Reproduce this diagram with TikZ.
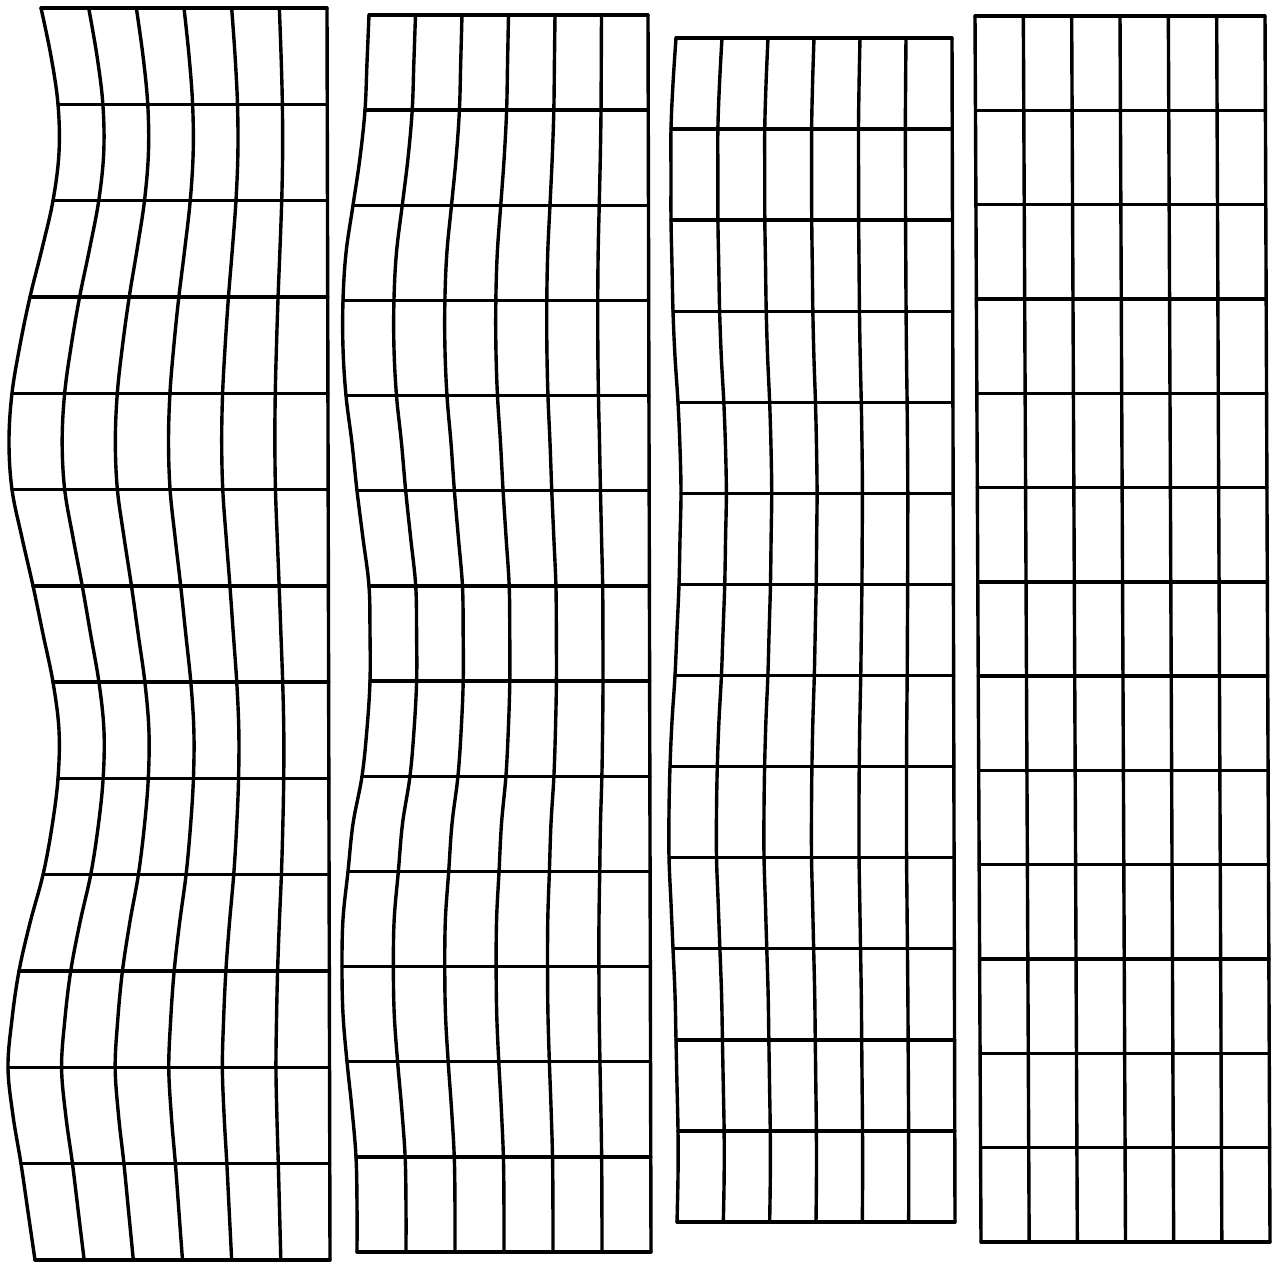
\documentclass[tikz,border=0pt]{standalone}
\tikzset{gridline/.style={line width=3.4pt, line cap=round, line join=round}}
\newcommand\wavegrid[7]{%
  \foreach \i in {0,...,6}{%
    \gdef\wgpts{}%
    \foreach \k in {0,...,26}{%
      \pgfmathsetmacro\wgy{#1+(#2-#1)/26*\k}%
      \pgfmathsetmacro\wgL{#3+(#4-#3)/26*\k}%
      \pgfmathsetmacro\wgR{#5+(#6-#5)/26*\k}%
      \pgfmathsetmacro\wgd{{#7}[\k]}%
      \pgfmathsetmacro\wgx{\wgL+(\wgR-\wgL)/6*\i+\wgd*(1-\i/6)}%
      \xdef\wgpts{\wgpts(\wgx,\wgy)}%
    }%
    \edef\wgdo{\noexpand\draw[gridline] plot[smooth,tension=0.6] coordinates {\wgpts};}\wgdo
  }%
  \foreach \k in {0,2,...,26}{%
    \pgfmathsetmacro\wgy{#1+(#2-#1)/26*\k}%
    \pgfmathsetmacro\wgL{#3+(#4-#3)/26*\k}%
    \pgfmathsetmacro\wgR{#5+(#6-#5)/26*\k}%
    \pgfmathsetmacro\wgd{{#7}[\k]}%
    \pgfmathsetmacro\wgx{\wgL+\wgd}%
    \draw[gridline] (\wgx,\wgy) -- (\wgR,\wgy);
  }%
}
\begin{document}
\begin{tikzpicture}[x=1pt,y=-1pt]
\fill[white] (0,0) rectangle (1279,1263);
\useasboundingbox (0,0) rectangle (1279,1263);
% grid 1
\wavegrid{8}{1260}{34}{34}{327}{330}{7,17,24,25,19,8,-4,-14,-22,-25,-22,-12,-1,9,19,25,24,18,9,-4,-15,-22,-26,-21,-13,-6,1}
% grid 2
\wavegrid{15}{1252}{356}{356}{648}{651}{13,11,9,4,-3,-10,-13,-13,-10,-4,1,7,13,14,14,11,6,-3,-8,-13,-14,-13,-9,-4,0,1,1}
% grid 3
\wavegrid{38}{1222}{675}{675}{952}{955}{1,-2,-4,-4,-4,-3,-2,0,3,5,6,5,4,2,0,-3,-5,-6,-6,-4,-2,0,1,2,3,3,2}
% grid 4
\wavegrid{16}{1242}{975}{981}{1265}{1270}{0,0,0,0,0,0,0,0,0,0,0,0,0,0,0,0,0,0,0,0,0,0,0,0,0,0,0}
\end{tikzpicture}
\end{document}
